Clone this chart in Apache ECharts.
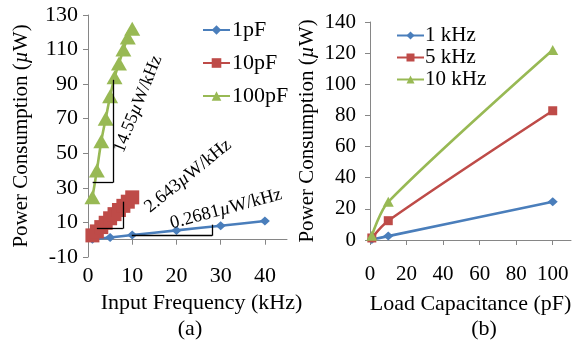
<!DOCTYPE html>
<html><head><meta charset="utf-8">
<script src="https://cdn.jsdelivr.net/npm/echarts@6/dist/echarts.min.js"></script>
<style>html,body{margin:0;padding:0;background:#fff}#c{width:575px;height:346px}</style>
</head><body><div id="c"></div>
<script>
// ---- data (a): power vs input frequency ----
const freqA = [1, 2, 3, 4, 5, 6, 7, 8, 9, 10];
const freqBlue = [1, 5, 10, 20, 30, 40];
const p1pF = [0.27, 1.3, 2.7, 5.4, 8.1, 10.8];
const p10pF = [2.5, 4.8, 7.3, 9.8, 12.4, 14.8, 17.2, 19.6, 22.0, 24.5];
const p100pF = [24.5, 40, 57, 70, 83, 94, 102, 110, 117, 122];
const xTicksA = [0, 10, 20, 30, 40];
const yTicksA = [-10, 10, 30, 50, 70, 90, 110, 130];
// ---- data (b): power vs load capacitance ----
const capB = [1, 10, 100];
const p1kHz = [0.27, 2.5, 24.5];
const p5kHz = [1.3, 12.4, 83];
const p10kHz = [2.7, 24.5, 122];
const xTicksB = [0, 20, 40, 60, 80, 100];
const yTicksB = [0, 20, 40, 60, 80, 100, 120, 140];
// slope guide triangles (data space)
const slopeGreen = [[1.05, 33], [5.65, 33], [5.65, 92.5]];
const slopeRed = [[2.0, 6.4], [7.9, 6.4], [7.9, 22]];
const slopeBlue = [[9.9, 2.3], [28.1, 2.3], [28.1, 8.7]];

const FONT = 'Liberation Serif';
const BLUE = '#4A7EBB', RED = '#BE4B48', GREEN = '#98B954';
const AX = '#868686';
const zip = (xs, ys) => xs.map((x, i) => [x, ys[i]]);
const ital = (sz) => ({ i: { fontStyle: 'italic', fontFamily: FONT, fontSize: sz } });

function guide(pts) {
  const segs = [];
  for (let i = 0; i < pts.length - 1; i++) segs.push([{ coord: pts[i] }, { coord: pts[i + 1] }]);
  return { silent: true, symbol: 'none', label: { show: false },
    lineStyle: { color: '#000', width: 1.3, type: 'solid' }, emphasis: { disabled: true }, data: segs };
}

const chart = echarts.init(document.getElementById('c'), null, { renderer: 'canvas' });
const tickText = { color: '#000', fontFamily: FONT, fontSize: 22 };
const tickTextB = { color: '#000', fontFamily: FONT, fontSize: 21 };

chart.setOption({
  animation: false,
  grid: [
    { left: 88, top: 15, width: 199, height: 242 },
    { left: 370, top: 22, width: 201, height: 218 }
  ],
  xAxis: [
    { gridIndex: 0, type: 'value', min: 0, max: 45, position: 'bottom',
      axisLine: { show: false, onZero: false }, axisTick: { show: false }, splitLine: { show: false },
      axisLabel: Object.assign({ margin: 8, customValues: xTicksA }, tickText),
      name: 'Input Frequency (kHz)', nameLocation: 'middle', nameGap: 35, nameMoveOverlap: false,
      nameTextStyle: { color: '#000', fontFamily: FONT, fontSize: 22, padding: [0, 0, 0, 28] } },
    { gridIndex: 0, type: 'value', min: 0, max: 45, position: 'top',
      axisLine: { show: true, onZero: true, lineStyle: { color: AX, width: 1 } },
      axisTick: { show: true, inside: true, length: 5, customValues: xTicksA, lineStyle: { color: AX } },
      axisLabel: { show: false }, splitLine: { show: false } },
    { gridIndex: 1, type: 'value', min: 0, max: 110, position: 'bottom',
      axisLine: { show: true, onZero: false, lineStyle: { color: AX, width: 1 } },
      axisTick: { show: true, length: 5, customValues: xTicksB, lineStyle: { color: AX } },
      axisLabel: Object.assign({ margin: 24, customValues: xTicksB }, tickTextB),
      splitLine: { show: false },
      name: 'Load Capacitance (pF)', nameLocation: 'middle', nameGap: 53, nameMoveOverlap: false,
      nameTextStyle: { color: '#000', fontFamily: FONT, fontSize: 22 } }
  ],
  yAxis: [
    { gridIndex: 0, type: 'value', min: -10, max: 130, interval: 20,
      axisLine: { show: true, onZero: false, lineStyle: { color: AX, width: 1 } },
      axisTick: { show: true, length: 5, customValues: yTicksA, lineStyle: { color: AX } },
      axisLabel: Object.assign({ margin: 10, customValues: yTicksA }, tickText),
      splitLine: { show: false },
      name: 'Power Consumption ({i|µ}W)', nameLocation: 'middle', nameGap: 56,
      nameTextStyle: { color: '#000', fontFamily: FONT, fontSize: 21, rich: ital(21) } },
    { gridIndex: 1, type: 'value', min: 0, max: 140, interval: 20,
      axisLine: { show: true, onZero: false, lineStyle: { color: AX, width: 1 } },
      axisTick: { show: true, length: 5, customValues: yTicksB, lineStyle: { color: AX } },
      axisLabel: Object.assign({ margin: 14, customValues: yTicksB }, tickTextB),
      splitLine: { show: false },
      name: 'Power Consumption ({i|µ}W)', nameLocation: 'middle', nameGap: 52,
      nameTextStyle: { color: '#000', fontFamily: FONT, fontSize: 21, rich: ital(21) } }
  ],
  legend: [
    { orient: 'vertical', left: 197, top: 14, itemWidth: 27, itemHeight: 12, itemGap: 11,
      data: ['1pF', '10pF', '100pF'], textStyle: { color: '#000', fontFamily: FONT, fontSize: 22, padding: [0, 0, 0, -3] } },
    { orient: 'vertical', left: 391, top: 20, itemWidth: 27, itemHeight: 10, itemGap: 1,
      data: ['1 kHz', '5 kHz', '10 kHz'], textStyle: { color: '#000', fontFamily: FONT, fontSize: 21, padding: [0, 0, 0, -4] } }
  ],
  series: [
    { name: '1pF', type: 'line', xAxisIndex: 0, yAxisIndex: 0, data: zip(freqBlue, p1pF), smooth: 0.3,
      symbol: 'diamond', symbolSize: [10, 9], lineStyle: { color: BLUE, width: 2.6 }, itemStyle: { color: BLUE },
      markLine: guide(slopeBlue), z: 2 },
    { name: '10pF', type: 'line', xAxisIndex: 0, yAxisIndex: 0, data: zip(freqA, p10pF), smooth: 0.3,
      symbol: 'rect', symbolSize: 14, lineStyle: { color: RED, width: 2.6 }, itemStyle: { color: RED },
      markLine: guide(slopeRed), z: 3 },
    { name: '100pF', type: 'line', xAxisIndex: 0, yAxisIndex: 0, data: zip(freqA, p100pF), smooth: 0.3,
      symbol: 'triangle', symbolSize: [16, 14], lineStyle: { color: GREEN, width: 2.6 }, itemStyle: { color: GREEN },
      markLine: guide(slopeGreen), z: 4 },
    { name: '1 kHz', type: 'line', xAxisIndex: 2, yAxisIndex: 1, data: zip(capB, p1kHz), smooth: 0.3,
      symbol: 'diamond', symbolSize: [10, 9], lineStyle: { color: BLUE, width: 2.6 }, itemStyle: { color: BLUE } },
    { name: '5 kHz', type: 'line', xAxisIndex: 2, yAxisIndex: 1, data: zip(capB, p5kHz), smooth: 0.3,
      symbol: 'rect', symbolSize: 9, lineStyle: { color: RED, width: 2.6 }, itemStyle: { color: RED } },
    { name: '10 kHz', type: 'line', xAxisIndex: 2, yAxisIndex: 1, data: zip(capB, p10kHz), smooth: 0.3,
      symbol: 'triangle', symbolSize: [11, 10], lineStyle: { color: GREEN, width: 2.6 }, itemStyle: { color: GREEN } }
  ],
  graphic: [
    { type: 'text', x: 138, y: 104, rotation: 68 * Math.PI / 180, z: 100,
      style: { text: '14.55{i|µ}W/kHz', rich: ital(18), fontFamily: FONT, fontSize: 18, fill: '#000', align: 'center', verticalAlign: 'middle' } },
    { type: 'text', x: 188, y: 176, rotation: 39 * Math.PI / 180, z: 100,
      style: { text: '2.643{i|µ}W/kHz', rich: ital(18.5), fontFamily: FONT, fontSize: 18.5, fill: '#000', align: 'center', verticalAlign: 'middle' } },
    { type: 'text', x: 226, y: 209, rotation: 15 * Math.PI / 180, z: 100,
      style: { text: '0.2681{i|µ}W/kHz', rich: ital(18.5), fontFamily: FONT, fontSize: 18.5, fill: '#000', align: 'center', verticalAlign: 'middle' } },
    { type: 'text', x: 190, y: 329, z: 100,
      style: { text: '(a)', fontFamily: FONT, fontSize: 22, fill: '#000', align: 'center', verticalAlign: 'middle' } },
    { type: 'text', x: 484, y: 329, z: 100,
      style: { text: '(b)', fontFamily: FONT, fontSize: 22, fill: '#000', align: 'center', verticalAlign: 'middle' } }
  ]
});
</script>
</body></html>
